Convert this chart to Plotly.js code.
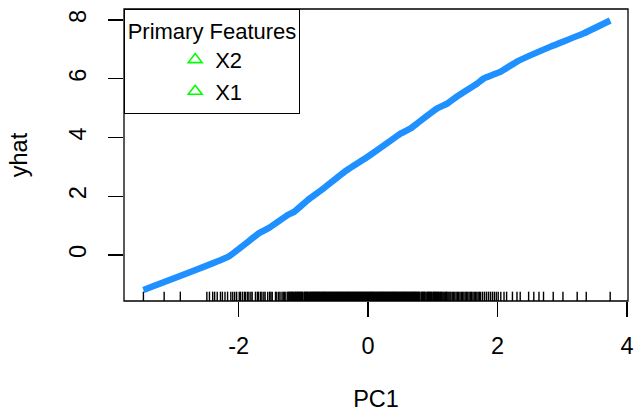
<!DOCTYPE html>
<html>
<head>
<meta charset="utf-8">
<script src="https://cdn.plot.ly/plotly-3.0.1.min.js"></script>
<style>html,body{margin:0;padding:0;background:#fff;}#chart{width:638px;height:418px;}</style>
</head>
<body>
<div id="chart"></div>
<script>
// Fitted curve (PC1 vs yhat)
const pc1 = [-3.47, -2.16, -1.68, -1.54, -1.24, -1.14, -0.93, -0.72, -0.36, 0.00, 0.25, 0.51, 0.66, 0.76, 1.07, 1.23, 1.38, 1.69, 1.79, 2.05, 2.30, 2.82, 3.33, 3.74];
const yhat = [-1.19, -0.06, 0.75, 0.91, 1.36, 1.47, 1.87, 2.21, 2.84, 3.35, 3.74, 4.14, 4.31, 4.48, 4.99, 5.16, 5.40, 5.84, 6.01, 6.24, 6.58, 7.09, 7.54, 7.98];

// Rug of observed PC1 values
const rugX = [
 -3.47, -3.15, -2.90,
 -2.49, -2.45, -2.40, -2.37, -2.33, -2.28, -2.25, -2.21, -2.17, -2.12, -2.09, -2.06, -2.03, -1.99, -1.97,
 -1.94, -1.91, -1.89, -1.86, -1.84, -1.81, -1.79, -1.74, -1.71, -1.69, -1.66, -1.64, -1.61, -1.59, -1.55,
 -1.52, -1.50, -1.48, -1.43, -1.41, -1.38, -1.36, -1.33, -1.31, -1.29, -1.27, -1.24, -1.22, -1.21, -1.19,
 -1.17, -1.16, -1.14, -1.12, -1.11, -1.09, -1.07, -1.05, -1.03, -1.02, -0.99, -0.97, -0.96, -0.94, -0.93,
 -0.91, -0.89, -0.88, -0.86, -0.84, -0.83, -0.81, -0.79, -0.78, -0.76, -0.74, -0.73, -0.71, -0.69, -0.68,
 -0.66, -0.64, -0.63, -0.61, -0.59, -0.58, -0.56, -0.55, -0.53, -0.51, -0.50, -0.48, -0.46, -0.45, -0.43,
 -0.41, -0.40, -0.38, -0.36, -0.35, -0.33, -0.31, -0.30, -0.28, -0.26, -0.25, -0.23, -0.22, -0.20, -0.18,
 -0.17, -0.15, -0.13, -0.12, -0.10, -0.08, -0.07, -0.05, -0.04, -0.02, 0.00, 0.01, 0.03, 0.05, 0.06,
 0.08, 0.09, 0.11, 0.13, 0.14, 0.16, 0.18, 0.19, 0.21, 0.22, 0.24, 0.26, 0.27, 0.29, 0.31, 0.32, 0.34,
 0.36, 0.37, 0.39, 0.40, 0.42, 0.44, 0.45, 0.47, 0.49, 0.50, 0.52, 0.54, 0.55, 0.57, 0.59, 0.60, 0.62,
 0.64, 0.65, 0.67, 0.69, 0.70, 0.72, 0.74, 0.75, 0.77, 0.79, 0.80, 0.83, 0.85, 0.86, 0.88, 0.91, 0.93,
 0.94, 0.96, 0.98, 1.01, 1.03, 1.04, 1.06, 1.09, 1.12, 1.14, 1.17, 1.20, 1.22, 1.25, 1.28, 1.30, 1.32,
 1.34, 1.36, 1.38, 1.40, 1.42, 1.44, 1.46, 1.48, 1.50, 1.52, 1.54, 1.56, 1.58, 1.60, 1.62, 1.64, 1.66,
 1.68, 1.70, 1.72, 1.74, 1.77, 1.80, 1.83, 1.86, 1.89, 1.92, 1.95, 1.98, 2.01, 2.05, 2.10, 2.14, 2.23,
 2.30, 2.35, 2.48, 2.56, 2.64, 2.71, 2.86, 3.01, 3.23, 3.37, 3.74,
 -1.235, -1.205, -1.185, -1.155, -1.125, -1.100, -1.080, -1.060, -1.040, -1.010, -0.980, -0.950, -0.925,
 -0.900, -0.870, -0.850, -0.820, -0.795, -0.770, -0.750, -0.720, -0.700, -0.675, -0.650, -0.620, -0.600,
 -0.570, -0.540, -0.520, -0.490, -0.470, -0.440, -0.420, -0.390, -0.370, -0.340, -0.320, -0.290, -0.270,
 -0.240, -0.210, -0.190, -0.160, -0.140, -0.110, -0.090, -0.060, -0.030, -0.010, 0.020, 0.040, 0.070,
 0.100, 0.120, 0.150, 0.170, 0.200, 0.230, 0.250, 0.280, 0.300, 0.330, 0.350, 0.380, 0.410, 0.430,
 0.460, 0.480, 0.510, 0.530, 0.560, 0.580, 0.610, 0.630, 0.660, 0.680, 0.710, 0.730, 0.760, 0.780,
 0.820, 0.840, 0.870, 0.895, 0.920, 0.950, 0.970, 1.000, 1.020, 1.050, 1.075, 1.100, 1.130, 1.155,
 1.185, 1.210, 1.235, 1.265
];

const xTicks = [-2, 0, 2, 4];
const yTicks = [0, 2, 4, 6, 8];
const legendNames = ["X2", "X1"];

const FONT = "Liberation Sans, Arial, sans-serif";
const FS = 23.5;
const LFS = 22;

const traces = [];
legendNames.forEach(function (nm) {
  traces.push({
    x: [null], y: [null], type: "scatter", mode: "markers", name: nm,
    marker: {symbol: "triangle-up-open", size: 12, color: "#00FF00", line: {width: 1.6, color: "#00FF00"}},
    showlegend: true, hoverinfo: "skip"
  });
});
traces.push({
  x: pc1, y: yhat, type: "scatter", mode: "lines",
  line: {color: "#1E90FF", width: 6.5, shape: "spline", smoothing: 0.3},
  showlegend: false, hoverinfo: "skip"
});

const shapes = rugX.map(function (v) {
  return {type: "line", xref: "x", yref: "paper", x0: v, x1: v, y0: 0, y1: 0.032,
          line: {color: "#000", width: 1.4}, layer: "above"};
});
shapes.push({type: "rect", xref: "paper", yref: "paper", x0: 0, x1: 1, y0: 0, y1: 1,
             line: {color: "#000", width: 1.3}, fillcolor: "rgba(0,0,0,0)", layer: "above"});

const layout = {
  width: 638, height: 418,
  margin: {l: 124, r: 10, t: 9, b: 117},
  paper_bgcolor: "#fff", plot_bgcolor: "#fff",
  font: {family: FONT, size: FS, color: "#000"},
  showlegend: true,
  legend: {
    x: 0, y: 1, xanchor: "left", yanchor: "top",
    bgcolor: "#fff", bordercolor: "#000", borderwidth: 1.2,
    font: {family: FONT, size: LFS, color: "#000"},
    title: {text: "Primary Features", side: "top center", font: {family: FONT, size: LFS}},
    indentation: 50, tracegroupgap: 0, itemwidth: 30
  },
  xaxis: {
    range: [-3.77, 4.015], tickvals: xTicks, ticktext: xTicks.map(String),
    showgrid: false, zeroline: false, showline: false,
    ticks: "outside", ticklen: 15, tickwidth: 1.3, tickcolor: "#000",
    ticklabelstandoff: 9,
    tickfont: {family: FONT, size: FS},
    title: {text: "PC1", font: {family: FONT, size: FS}, standoff: 32},
    fixedrange: true
  },
  yaxis: {
    range: [-1.566, 8.37], tickvals: yTicks, ticktext: yTicks.map(String),
    showgrid: false, zeroline: false, showline: false,
    ticks: "outside", ticklen: 15, tickwidth: 1.3, tickcolor: "#000",
    tickangle: -90, ticklabelstandoff: 13,
    tickfont: {family: FONT, size: FS},
    title: {text: "yhat", font: {family: FONT, size: FS}, standoff: 30},
    fixedrange: true
  },
  shapes: shapes
};

Plotly.newPlot("chart", traces, layout, {staticPlot: true, displayModeBar: false});
</script>
</body>
</html>
